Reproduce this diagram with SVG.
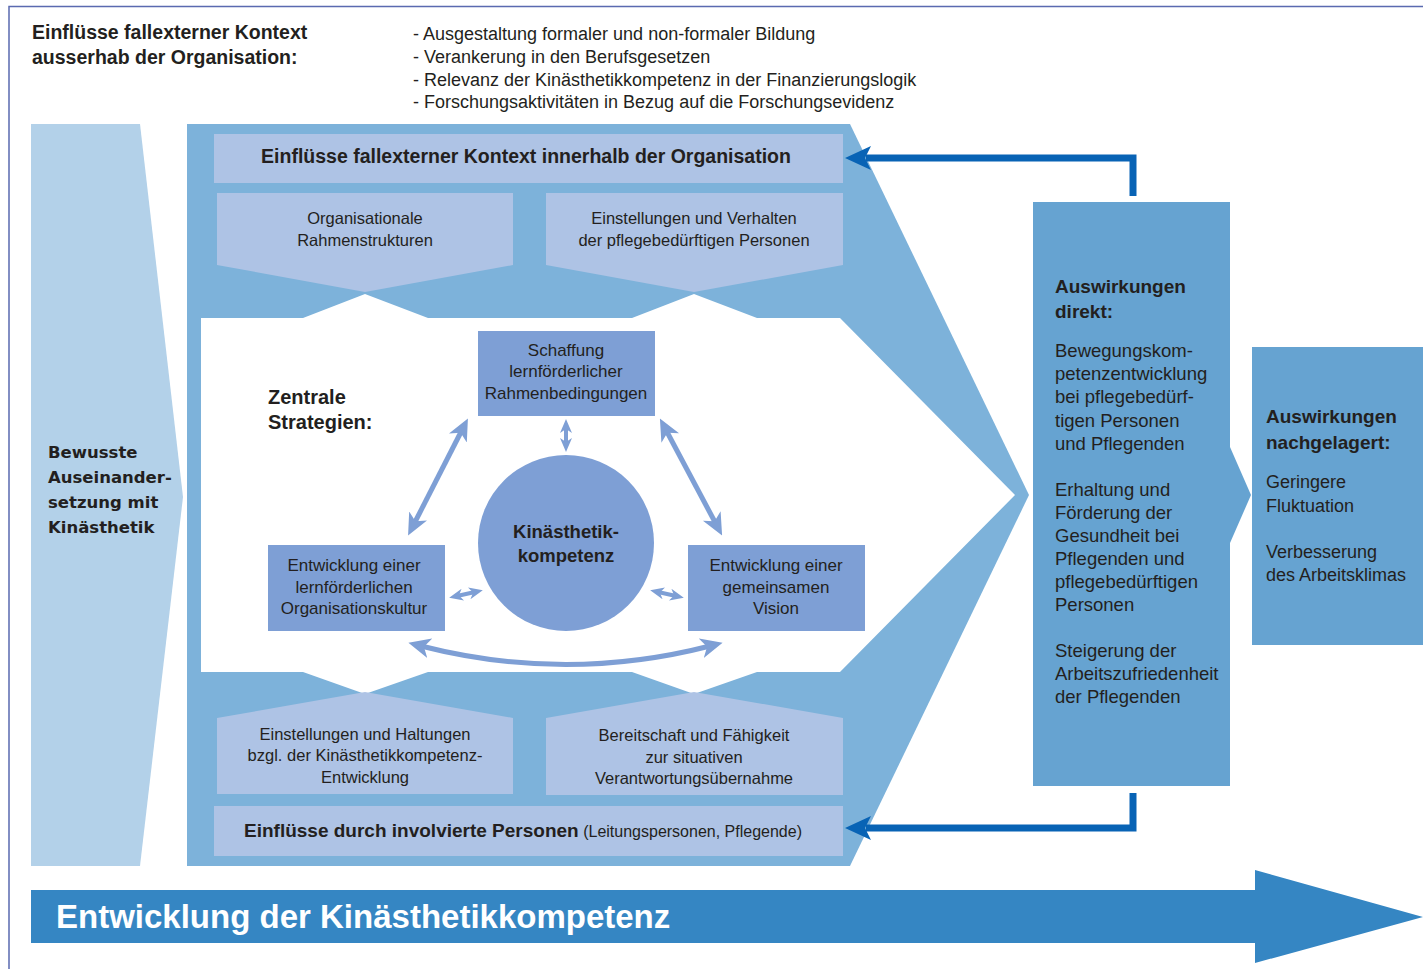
<svg xmlns="http://www.w3.org/2000/svg" width="1423" height="969" viewBox="0 0 1423 969">
<style>
.t{font-family:"Liberation Sans",Arial,sans-serif;fill:#231f20}
.b{font-weight:bold}
.v{font-family:"DejaVu Sans",Verdana,sans-serif;font-weight:bold;fill:#231f20}
.lb{fill:#aec3e5}
.sb{fill:#7e9fd5}
.rb{fill:#66a3d1}
.sa{fill:none;stroke:#7e9fd5;stroke-width:5;marker-start:url(#dh);marker-end:url(#dh)}
.ss{fill:none;stroke:#7e9fd5;stroke-width:4;marker-start:url(#ds);marker-end:url(#ds)}
.fb{fill:none;stroke:#0863b5;stroke-width:7;marker-end:url(#ah)}
</style>
<defs>
<marker id="dh" viewBox="0 0 22 22" markerWidth="22" markerHeight="22" markerUnits="userSpaceOnUse" refX="9" refY="11" orient="auto-start-reverse">
<path d="M0,1 L22,11 L0,21 L6,11 Z" fill="#7e9fd5"/>
</marker>
<marker id="ds" viewBox="0 0 14 14" markerWidth="14" markerHeight="14" markerUnits="userSpaceOnUse" refX="6" refY="7" orient="auto-start-reverse">
<path d="M0,1 L14,7 L0,13 L4,7 Z" fill="#7e9fd5"/>
</marker>
<marker id="ah" viewBox="0 0 26 26" markerWidth="26" markerHeight="26" markerUnits="userSpaceOnUse" refX="5" refY="13" orient="auto">
<path d="M0,1 L26,13 L0,25 L6,13 Z" fill="#0863b5"/>
</marker>
</defs>

<path d="M9,969 V6.5 H1423" fill="none" stroke="#5a6ab0" stroke-width="1.5"/>

<g id="external-context">
<text class="t b" font-size="19.5" x="32" y="39">Einflüsse fallexterner Kontext</text>
<text class="t b" font-size="19.5" x="32" y="64">ausserhab der Organisation:</text>
<text class="t" font-size="18" x="413" y="40">- Ausgestaltung formaler und non-formaler Bildung</text>
<text class="t" font-size="18" x="413" y="63">- Verankerung in den Berufsgesetzen</text>
<text class="t" font-size="18" x="413" y="86">- Relevanz der Kinästhetikkompetenz in der Finanzierungslogik</text>
<text class="t" font-size="18" x="413" y="108">- Forschungsaktivitäten in Bezug auf die Forschungsevidenz</text>
</g>

<g id="bewusste">
<path d="M31,124 H140 L183,497 L140,866 H31 Z" fill="#b3d1e9"/>
<text class="v" font-size="16.5" x="48" y="458">Bewusste</text>
<text class="v" font-size="16.5" x="48" y="483">Auseinander-</text>
<text class="v" font-size="16.5" x="48" y="508">setzung mit</text>
<text class="v" font-size="16.5" x="48" y="533">Kinästhetik</text>
</g>

<g id="organisation">
<path d="M187,124 H850 L1029,495 L850,866 H187 Z" fill="#7db2da"/>
<path d="M201,318 H303 L365,294 L428,318 H632 L694,294 L757,318 H840 L1015,495 L840,672 H757 L694,694 L632,672 H428 L365,694 L303,672 H201 Z" fill="#ffffff"/>
</g>

<g id="innerhalb">
<rect class="lb" x="214" y="134" width="629" height="49"/>
<text class="t b" font-size="19.5" x="526" y="163" text-anchor="middle">Einflüsse fallexterner Kontext innerhalb der Organisation</text>
</g>

<g id="rahmenstrukturen">
<path class="lb" d="M217,193 H513 V265 L365,292 L217,265 Z"/>
<text class="t" font-size="16.5" x="365" y="224" text-anchor="middle">Organisationale</text>
<text class="t" font-size="16.5" x="365" y="246" text-anchor="middle">Rahmenstrukturen</text>
</g>

<g id="einstellungen-verhalten">
<path class="lb" d="M546,193 H843 V265 L694,292 L546,265 Z"/>
<text class="t" font-size="16.5" x="694" y="224" text-anchor="middle">Einstellungen und Verhalten</text>
<text class="t" font-size="16.5" x="694" y="246" text-anchor="middle">der pflegebedürftigen Personen</text>
</g>

<g id="einstellungen-haltungen">
<path class="lb" d="M217,718 L365,692 L513,718 V794 H217 Z"/>
<text class="t" font-size="16.5" x="365" y="740" text-anchor="middle">Einstellungen und Haltungen</text>
<text class="t" font-size="16.5" x="365" y="761" text-anchor="middle">bzgl. der Kinästhetikkompetenz-</text>
<text class="t" font-size="16.5" x="365" y="783" text-anchor="middle">Entwicklung</text>
</g>

<g id="bereitschaft">
<path class="lb" d="M546,718 L694,692 L843,718 V795 H546 Z"/>
<text class="t" font-size="16.5" x="694" y="741" text-anchor="middle">Bereitschaft und Fähigkeit</text>
<text class="t" font-size="16.5" x="694" y="763" text-anchor="middle">zur situativen</text>
<text class="t" font-size="16.5" x="694" y="784" text-anchor="middle">Verantwortungsübernahme</text>
</g>

<g id="involvierte">
<rect class="lb" x="214" y="806" width="629" height="50"/>
<text class="t" x="244" y="837"><tspan class="b" font-size="19">Einflüsse durch involvierte Personen</tspan><tspan font-size="16"> (Leitungspersonen, Pflegende)</tspan></text>
</g>

<g id="zentrale">
<text class="t b" font-size="20" x="268" y="404">Zentrale</text>
<text class="t b" font-size="20" x="268" y="429">Strategien:</text>
</g>

<g id="schaffung">
<rect class="sb" x="478" y="331" width="177" height="85"/>
<text class="t" font-size="17" x="566" y="356" text-anchor="middle">Schaffung</text>
<text class="t" font-size="17" x="566" y="377" text-anchor="middle">lernförderlicher</text>
<text class="t" font-size="17" x="566" y="399" text-anchor="middle">Rahmenbedingungen</text>
</g>

<g id="kultur">
<rect class="sb" x="268" y="545" width="177" height="86"/>
<text class="t" font-size="17" x="354" y="571" text-anchor="middle">Entwicklung einer</text>
<text class="t" font-size="17" x="354" y="593" text-anchor="middle">lernförderlichen</text>
<text class="t" font-size="17" x="354" y="614" text-anchor="middle">Organisationskultur</text>
</g>

<g id="vision">
<rect class="sb" x="688" y="545" width="177" height="86"/>
<text class="t" font-size="17" x="776" y="571" text-anchor="middle">Entwicklung einer</text>
<text class="t" font-size="17" x="776" y="593" text-anchor="middle">gemeinsamen</text>
<text class="t" font-size="17" x="776" y="614" text-anchor="middle">Vision</text>
</g>

<g id="kompetenz">
<circle class="sb" cx="566" cy="543" r="88"/>
<text class="t b" font-size="18.5" x="566" y="538" text-anchor="middle">Kinästhetik-</text>
<text class="t b" font-size="18.5" x="566" y="562" text-anchor="middle">kompetenz</text>
</g>

<g id="direkt">
<path class="rb" d="M1033,202 H1230 V447 L1251,495 L1230,543 V786 H1033 Z"/>
<text class="t b" font-size="19" x="1055" y="293">Auswirkungen</text>
<text class="t b" font-size="19" x="1055" y="318">direkt:</text>
<text class="t" font-size="18.5" x="1055" y="357">Bewegungskom-</text>
<text class="t" font-size="18.5" x="1055" y="380">petenzentwicklung</text>
<text class="t" font-size="18.5" x="1055" y="403">bei pflegebedürf-</text>
<text class="t" font-size="18.5" x="1055" y="427">tigen Personen</text>
<text class="t" font-size="18.5" x="1055" y="450">und Pflegenden</text>
<text class="t" font-size="18.5" x="1055" y="496">Erhaltung und</text>
<text class="t" font-size="18.5" x="1055" y="519">Förderung der</text>
<text class="t" font-size="18.5" x="1055" y="542">Gesundheit bei</text>
<text class="t" font-size="18.5" x="1055" y="565">Pflegenden und</text>
<text class="t" font-size="18.5" x="1055" y="588">pflegebedürftigen</text>
<text class="t" font-size="18.5" x="1055" y="611">Personen</text>
<text class="t" font-size="18.5" x="1055" y="657">Steigerung der</text>
<text class="t" font-size="18.5" x="1055" y="680">Arbeitszufriedenheit</text>
<text class="t" font-size="18.5" x="1055" y="703">der Pflegenden</text>
</g>

<g id="nachgelagert">
<rect class="rb" x="1252" y="347" width="171" height="298"/>
<text class="t b" font-size="19" x="1266" y="423">Auswirkungen</text>
<text class="t b" font-size="19" x="1266" y="449">nachgelagert:</text>
<text class="t" font-size="18" x="1266" y="488">Geringere</text>
<text class="t" font-size="18" x="1266" y="512">Fluktuation</text>
<text class="t" font-size="18" x="1266" y="558">Verbesserung</text>
<text class="t" font-size="18" x="1266" y="581">des Arbeitsklimas</text>
</g>

<g id="entwicklung">
<path d="M31,890 H1255 V870 L1423,917 L1255,963 V943 H31 Z" fill="#3586c3"/>
<text class="b" font-family="Liberation Sans, Arial, sans-serif" font-size="33" fill="#ffffff" x="56" y="928">Entwicklung der Kinästhetikkompetenz</text>
</g>

<g id="connectors">
<line class="sa" x1="462" y1="430" x2="414" y2="524"/>
<line class="sa" x1="666" y1="430" x2="716" y2="524"/>
<line class="ss" x1="566" y1="427" x2="566" y2="444"/>
<line class="ss" x1="457" y1="596" x2="475" y2="592"/>
<line class="ss" x1="658" y1="592" x2="676" y2="596"/>
<path class="sa" d="M421,646 Q566,683 710,646"/>
<path class="fb" d="M1133,196 V158 H866"/>
<path class="fb" d="M1133,793 V828 H866"/>
</g>
</svg>
